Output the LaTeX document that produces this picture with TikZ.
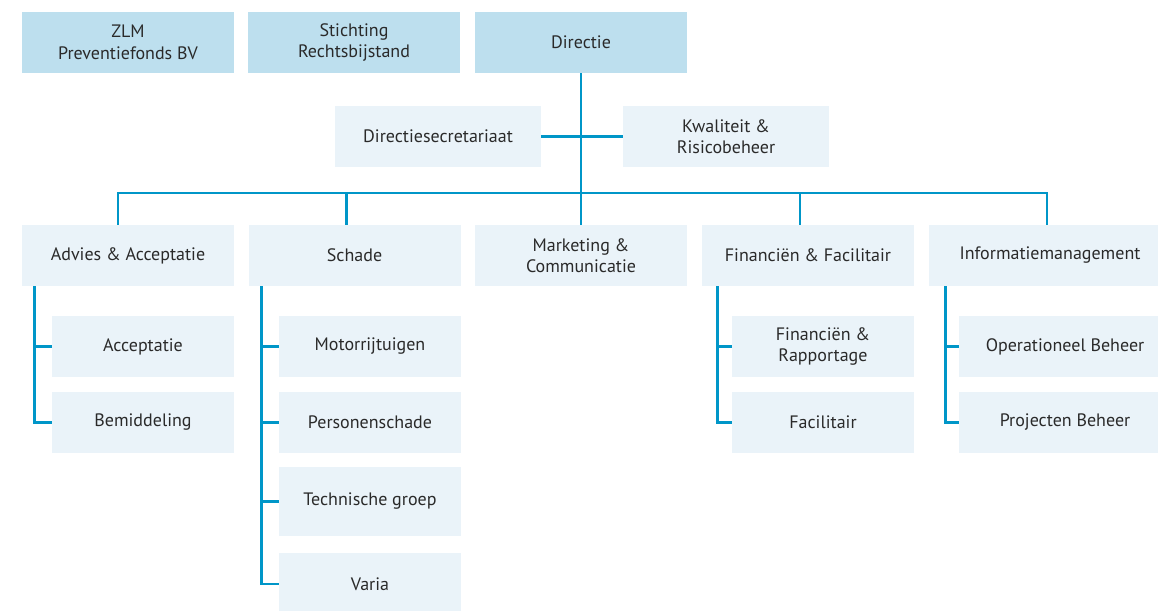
\documentclass[tikz,border=0pt]{standalone}
\usepackage{fontspec}
\setmainfont{PT Sans}
\definecolor{linkblue}{HTML}{0096C8}
\definecolor{topfill}{HTML}{BDDFEE}
\definecolor{unitfill}{HTML}{EAF3F9}
\definecolor{labelgray}{HTML}{2A2A2A}
\tikzset{
  unit/.style={fill=unitfill, text=labelgray, align=center, inner sep=0pt,
    minimum width=212pt, minimum height=61pt, font=\fontsize{18}{21.5}\selectfont},
  topunit/.style={unit, fill=topfill},
  subunit/.style={unit, minimum width=182pt},
  link/.style={draw=linkblue, line width=2.7pt},
}
\begin{document}
\begin{tikzpicture}[x=1pt,y=-1pt]
					\useasboundingbox (0,0) rectangle (1158,610);
					\clip (0,0) rectangle (1158,610);
					\node[topunit] (zlm)       at (128,42.5) {ZLM\\Preventiefonds BV};
					\node[topunit] (stichting) at (354,42.5) {Stichting\\Rechtsbijstand};
					\node[topunit] (directie)  at (581,42.5) {Directie};
					\node[unit, minimum width=206pt] (secretariaat) at (438,136.5) {Directiesecretariaat};
					\node[unit, minimum width=206pt] (kwaliteit)    at (726,136.5) {Kwaliteit \&\\Risicobeheer};
					%
					\node[unit] (advies)     at (128,255.5)   {Advies \& Acceptatie};
					\node[unit] (schade)     at (354.5,255.5) {Schade};
					\node[unit] (marketing)  at (581,255.5)   {Marketing \&\\Communicatie};
					\node[unit] (financien)  at (808,255.5)   {Financiën \& Facilitair};
					\node[unit, minimum width=242pt] (informatie) at (1050,255.5) {Informatiemanagement};
					%
					\node[subunit] (acceptatie)  at (143,346.5) {Acceptatie};
					\node[subunit] (bemiddeling) at (143,422.5) {Bemiddeling};
					\node[subunit] (motor)       at (370,346.5) {Motorrijtuigen};
					\node[subunit] (personen)    at (370,422.5) {Personenschade};
					\node[subunit, minimum height=69pt] (techniek) at (370,501.5) {Technische groep};
					\node[subunit, minimum height=62pt] (varia)    at (370,584)   {Varia};
					\node[subunit] (rapportage)  at (823,346.5) {Financiën \&\\Rapportage};
					\node[subunit] (facilitair)  at (823,422.5) {Facilitair};
					\node[subunit, minimum width=212pt] (operationeel) at (1065,346.5) {Operationeel Beheer};
					\node[subunit, minimum width=212pt] (projecten)    at (1065,422.5) {Projecten Beheer};
					%
					\coordinate (bus) at (581,193);
					\draw[link] (directie.south) -- (marketing.north);
					\draw[link] (secretariaat.east) -- (kwaliteit.west);
					\draw[link] ([xshift=-10pt]advies.north) |- (bus) -| ([xshift=-3pt]informatie.north);
					\draw[link] ([xshift=-8pt]schade.north) -- ([xshift=-8pt]schade.north |- bus);
					\draw[link] ([xshift=-8pt]financien.north) -- ([xshift=-8pt]financien.north |- bus);
					%
					\draw[link] ([xshift=13pt]advies.south west) |- (bemiddeling.west);
					\draw[link] (acceptatie.west) -- ++(-17,0);
					\draw[link] ([xshift=13.5pt]schade.south west) |- (varia.west);
					\draw[link] (motor.west) -- ++(-17,0);
					\draw[link] (personen.west) -- ++(-17,0);
					\draw[link] (techniek.west) -- ++(-17,0);
					\draw[link] ([xshift=16pt]financien.south west) |- (facilitair.west);
					\draw[link] (rapportage.west) -- ++(-14,0);
					\draw[link] ([xshift=17pt]informatie.south west) |- (projecten.west);
					\draw[link] (operationeel.west) -- ++(-13,0);
				\end{tikzpicture}
\end{document}
